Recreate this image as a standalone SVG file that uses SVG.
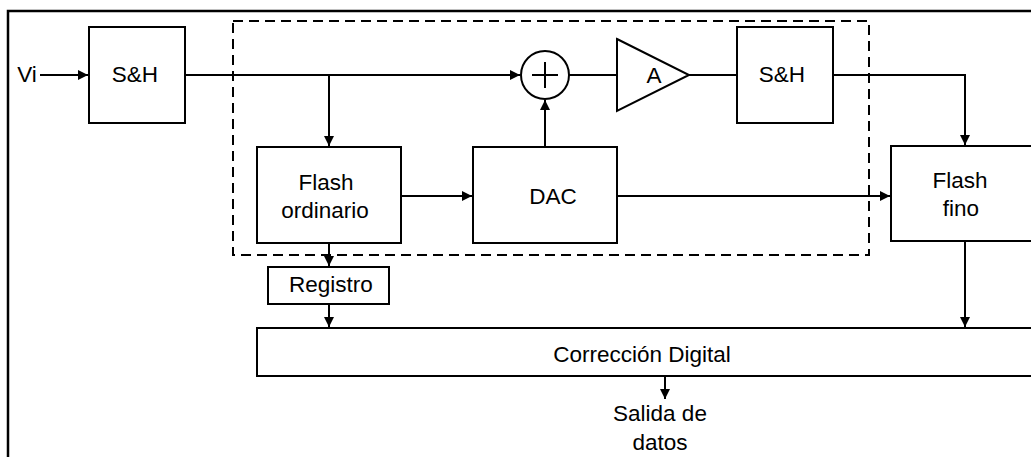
<svg xmlns="http://www.w3.org/2000/svg" width="1031" height="457" viewBox="0 0 1031 457">
<defs>
<marker id="ah" viewBox="0 0 10 10" refX="10" refY="5" markerWidth="10" markerHeight="10" markerUnits="userSpaceOnUse" orient="auto">
<path d="M0,0 L10,5 L0,10 Z" fill="#000"/>
</marker>
<style>
.box{fill:#fff;stroke:#000;stroke-width:2}
.ln{fill:none;stroke:#000;stroke-width:2}
.ar{fill:none;stroke:#000;stroke-width:2;marker-end:url(#ah)}
.t{font-family:"Liberation Sans",Arial,sans-serif;font-size:22.5px;fill:#000;text-anchor:middle}
</style>
</defs>
<rect width="1031" height="457" fill="#fff"/>
<rect x="8" y="11" width="1040" height="460" fill="none" stroke="#000" stroke-width="2.5"/>
<rect id="pipeline-stage" x="233" y="21" width="636" height="234" fill="none" stroke="#000" stroke-width="2" stroke-dasharray="10,6"/>
<g id="connectors">
<line class="ar" x1="40" y1="75" x2="88" y2="75"/>
<line class="ar" x1="185" y1="75" x2="520" y2="75"/>
<line class="ar" x1="329" y1="75" x2="329" y2="146"/>
<line class="ln" x1="569" y1="75" x2="617" y2="75"/>
<line class="ln" x1="689" y1="75" x2="737" y2="75"/>
<polyline class="ar" points="833,75 965,75 965,145"/>
<line class="ar" x1="401" y1="196" x2="472" y2="196"/>
<line class="ar" x1="545" y1="147" x2="545" y2="100"/>
<line class="ar" x1="617" y1="196" x2="890" y2="196"/>
<line class="ar" x1="329" y1="243" x2="329" y2="266"/>
<line class="ar" x1="329" y1="304" x2="329" y2="327"/>
<line class="ar" x1="965" y1="241" x2="965" y2="327"/>
<line class="ar" x1="665" y1="376" x2="665" y2="399"/>
</g>
<text class="t" x="27" y="82">Vi</text>
<g id="sh1"><rect class="box" x="89" y="27" width="96" height="96"/><text class="t" x="135" y="82">S&amp;H</text></g>
<g id="sum"><circle class="box" cx="545" cy="75" r="24"/><line class="ln" x1="532" y1="75" x2="558" y2="75"/><line class="ln" x1="545" y1="62" x2="545" y2="88"/></g>
<g id="amp"><polygon class="box" points="617,39 689,75 617,111"/><text class="t" x="654" y="83">A</text></g>
<g id="sh2"><rect class="box" x="737" y="27" width="96" height="96"/><text class="t" x="782" y="82">S&amp;H</text></g>
<g id="flash-ord"><rect class="box" x="257" y="147" width="144" height="96"/><text class="t" x="326" y="190">Flash</text><text class="t" x="325" y="218">ordinario</text></g>
<g id="dac"><rect class="box" x="473" y="147" width="144" height="96"/><text class="t" x="553" y="204">DAC</text></g>
<g id="flash-fino"><rect class="box" x="891" y="146" width="146" height="95"/><text class="t" x="960" y="188">Flash</text><text class="t" x="961" y="216">fino</text></g>
<g id="registro"><rect class="box" x="268" y="267" width="121" height="37"/><text class="t" x="331" y="292">Registro</text></g>
<g id="correccion"><rect class="box" x="257" y="328" width="790" height="48"/><text class="t" x="642" y="362">Corrección Digital</text></g>
<g id="salida"><text class="t" x="660" y="421">Salida de</text><text class="t" x="660" y="450">datos</text></g>
</svg>
